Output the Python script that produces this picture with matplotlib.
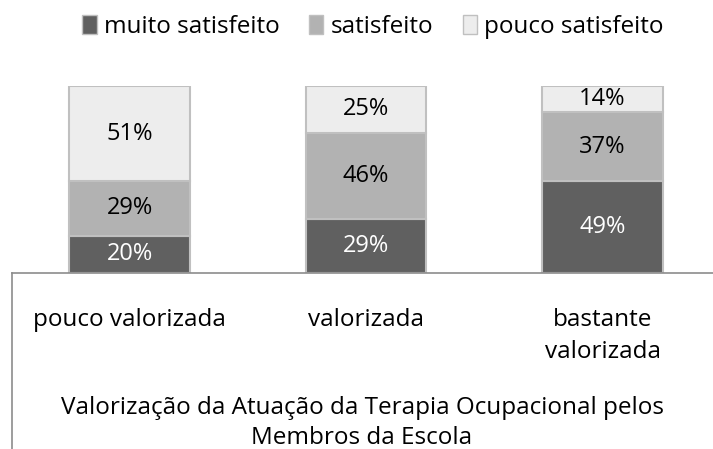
import matplotlib
matplotlib.use("Agg")
import matplotlib.pyplot as plt
import matplotlib.patches as mpatches
import numpy as np

categorias = ["pouco valorizada", "valorizada", "bastante\nvalorizada"]
series = ["muito satisfeito", "satisfeito", "pouco satisfeito"]
muito = [20, 29, 49]
satisf = [29, 46, 37]
pouco = [51, 25, 14]
cores = ["#606060", "#b2b2b2", "#ededed"]
cor_texto = ["white", "black", "black"]

plt.rcParams['font.family'] = ['Open Sans', 'DejaVu Sans']

fig = plt.figure(figsize=(7.13, 4.49), dpi=100)
ax = fig.add_axes([12/713, (449-273)/449, 701/713, (273-86)/449])

x = np.arange(len(categorias))
base = np.zeros(len(categorias))
for vals, cor, ct, nome in zip([muito, satisf, pouco], cores, cor_texto, series):
    ax.bar(x, vals, bottom=base, width=0.51, color=cor,
           edgecolor="#c0c0c0", linewidth=1.5, label=nome)
    for xi, b, v in zip(x, base, vals):
        ax.text(xi, b + v/2, f"{v}%", ha="center", va="center",
                color=ct, fontsize=17)
    base = base + np.array(vals)

ax.set_xlim(-0.497, 2.467)
ax.set_ylim(0, 100)
ax.set_yticks([])
ax.set_xticks(x)
ax.set_xticklabels(categorias, fontsize=17.5, linespacing=1.45)
ax.tick_params(axis="x", length=0, pad=25)
for s in ["top", "right", "left"]:
    ax.spines[s].set_visible(False)
ax.spines["bottom"].set_color("#8c8c8c")
ax.spines["bottom"].set_linewidth(1.2)
# linha esquerda que continua abaixo do eixo
ax.plot([0, 0], [0, -1.0], transform=ax.transAxes, color="#8c8c8c",
        lw=1.2, clip_on=False)

fig.text(362/713, 1 - 423/449,
         "Valorização da Atuação da Terapia Ocupacional pelos\nMembros da Escola",
         ha="center", va="center", fontsize=17.5, linespacing=1.3)

handles = [mpatches.Patch(facecolor=c, edgecolor="#c0c0c0", linewidth=1) for c in cores]
fig.legend(handles, series, loc="center", bbox_to_anchor=(373/713, 1 - 27/449),
           ncol=3, frameon=False, fontsize=17.5, handlelength=0.6, handleheight=0.8,
           handletextpad=0.3, columnspacing=1.2)

fig.savefig("out.png", dpi=100)
